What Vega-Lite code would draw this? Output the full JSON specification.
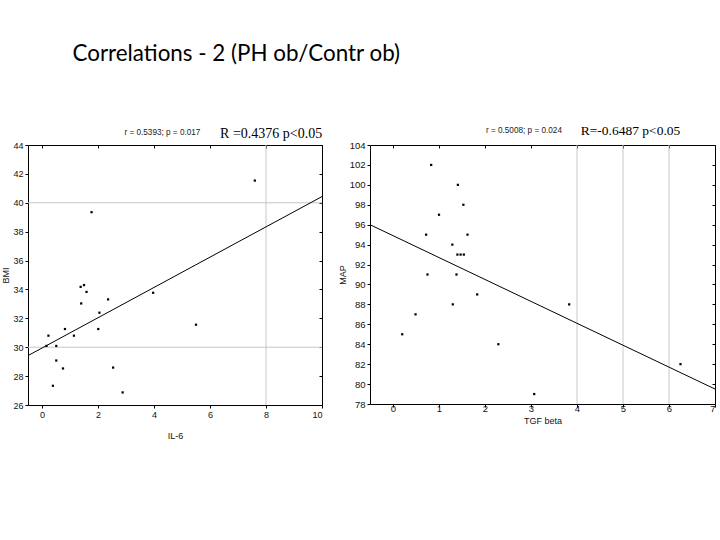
{
  "$schema": "https://vega.github.io/schema/vega-lite/v6.json",
  "padding": {"left": 1, "top": 42, "right": 0, "bottom": 0},
  "background": "white",
  "title": {"text": "Correlations - 2 (PH ob/Contr ob)", "anchor": "start", "font": "Lato", "fontSize": 22.4, "fontWeight": "normal", "color": "black", "dx": 71, "offset": 58},
  "config": {
    "view": {"stroke": "black", "strokeWidth": 1},
    "axis": {"grid": false, "domain": false, "tickColor": "black", "tickSize": 3, "labelFont": "Liberation Sans", "labelFontSize": 9, "labelColor": "#111", "titleFont": "Liberation Sans", "titleFontSize": 9, "titleFontWeight": "normal", "titleColor": "#111", "labelPadding": 2}
  },
  "spacing": 10,
  "hconcat": [
    {
      "width": 294,
      "height": 260,
      "resolve": {"axis": {"x": "independent", "y": "independent"}},
      "layer": [
        {
          "data": {"values": [{"v": 30}, {"v": 40}]},
          "mark": {"type": "rule", "color": "#c8c8c8", "strokeWidth": 1},
          "encoding": {"y": {"field": "v", "type": "quantitative", "scale": {"domain": [26, 44], "nice": false, "zero": false}, "axis": null}}
        },
        {
          "data": {"values": [{"v": 8}]},
          "mark": {"type": "rule", "color": "#c8c8c8", "strokeWidth": 1},
          "encoding": {"x": {"field": "v", "type": "quantitative", "scale": {"domain": [-0.5, 10], "nice": false, "zero": false}, "axis": null}}
        },
        {
          "data": {"values": [{"il6": -0.5, "bmi": 29.42}, {"il6": 10, "bmi": 40.43}]},
          "mark": {"type": "line", "color": "black", "strokeWidth": 1},
          "encoding": {
            "x": {"field": "il6", "type": "quantitative", "scale": {"domain": [-0.5, 10], "nice": false, "zero": false}, "axis": {"orient": "top", "labels": false, "title": null, "tickSize": -3, "values": [0, 2, 4, 6, 8, 10]}},
            "y": {"field": "bmi", "type": "quantitative", "scale": {"domain": [26, 44], "nice": false, "zero": false}, "axis": {"orient": "right", "labels": false, "title": null, "tickSize": -3, "values": [26, 28, 30, 32, 34, 36, 38, 40, 42, 44]}}
          }
        },
        {
          "data": {"values": [
            {"il6": 0.23, "bmi": 30.8}, {"il6": 0.16, "bmi": 30.09}, {"il6": 0.51, "bmi": 30.09},
            {"il6": 0.82, "bmi": 31.26}, {"il6": 1.14, "bmi": 30.8}, {"il6": 0.51, "bmi": 29.08},
            {"il6": 0.75, "bmi": 28.53}, {"il6": 0.39, "bmi": 27.33}, {"il6": 1.38, "bmi": 34.18},
            {"il6": 1.5, "bmi": 34.3}, {"il6": 1.59, "bmi": 33.83}, {"il6": 1.4, "bmi": 33.03},
            {"il6": 2.05, "bmi": 32.39}, {"il6": 2.01, "bmi": 31.26}, {"il6": 2.36, "bmi": 33.31},
            {"il6": 2.54, "bmi": 28.59}, {"il6": 2.88, "bmi": 26.87}, {"il6": 3.97, "bmi": 33.77},
            {"il6": 5.5, "bmi": 31.56}, {"il6": 1.77, "bmi": 39.35}, {"il6": 7.6, "bmi": 41.54}
          ]},
          "mark": {"type": "square", "color": "black", "size": 5, "opacity": 1, "filled": true},
          "encoding": {
            "x": {"field": "il6", "type": "quantitative", "scale": {"domain": [-0.5, 10], "nice": false, "zero": false}, "axis": {"title": "IL-6", "values": [0, 2, 4, 6, 8, 10], "titlePadding": 12}},
            "y": {"field": "bmi", "type": "quantitative", "scale": {"domain": [26, 44], "nice": false, "zero": false}, "axis": {"title": "BMI", "values": [26, 28, 30, 32, 34, 36, 38, 40, 42, 44], "titlePadding": 2}}
          }
        },
        {
          "data": {"values": [{"label": "r = 0.5393; p = 0.017"}]},
          "mark": {"type": "text", "font": "Liberation Sans", "fontSize": 8.2, "align": "center", "baseline": "middle", "color": "#222"},
          "encoding": {
            "x": {"datum": 4.3, "type": "quantitative", "axis": null},
            "y": {"datum": 44.85, "type": "quantitative", "axis": null},
            "text": {"field": "label"}
          }
        },
        {
          "data": {"values": [{"label": "R =0.4376  p<0.05"}]},
          "mark": {"type": "text", "font": "Liberation Serif", "fontSize": 14, "align": "left", "baseline": "middle", "color": "black"},
          "encoding": {
            "x": {"datum": 6.36, "type": "quantitative", "axis": null},
            "y": {"datum": 44.77, "type": "quantitative", "axis": null},
            "text": {"field": "label"}
          }
        }
      ]
    },
    {
      "width": 345,
      "height": 259,
      "resolve": {"axis": {"x": "independent", "y": "independent"}},
      "layer": [
        {
          "data": {"values": [{"v": 4}, {"v": 5}, {"v": 6}]},
          "mark": {"type": "rule", "color": "#c8c8c8", "strokeWidth": 1},
          "encoding": {"x": {"field": "v", "type": "quantitative", "scale": {"domain": [-0.5, 7], "nice": false, "zero": false}, "axis": null}}
        },
        {
          "data": {"values": [{"tgf": -0.5, "map": 96.0}, {"tgf": 7, "map": 79.5}]},
          "mark": {"type": "line", "color": "black", "strokeWidth": 1},
          "encoding": {
            "x": {"field": "tgf", "type": "quantitative", "scale": {"domain": [-0.5, 7], "nice": false, "zero": false}, "axis": {"orient": "top", "labels": false, "title": null, "tickSize": -3, "values": [0, 1, 2, 3, 4, 5, 6, 7]}},
            "y": {"field": "map", "type": "quantitative", "scale": {"domain": [78, 104], "nice": false, "zero": false}, "axis": {"orient": "right", "labels": false, "title": null, "tickSize": -3, "values": [78, 80, 82, 84, 86, 88, 90, 92, 94, 96, 98, 100, 102, 104]}}
          }
        },
        {
          "data": {"values": [
            {"tgf": 0.83, "map": 102.0}, {"tgf": 1.41, "map": 100.0}, {"tgf": 1.53, "map": 98.0},
            {"tgf": 1.0, "map": 97.0}, {"tgf": 0.72, "map": 95.0}, {"tgf": 1.62, "map": 95.0},
            {"tgf": 1.29, "map": 94.0}, {"tgf": 1.4, "map": 93.0}, {"tgf": 1.47, "map": 93.0},
            {"tgf": 1.54, "map": 93.0}, {"tgf": 0.75, "map": 91.0}, {"tgf": 1.38, "map": 91.0},
            {"tgf": 1.83, "map": 89.0}, {"tgf": 1.3, "map": 88.0}, {"tgf": 3.83, "map": 88.0},
            {"tgf": 0.49, "map": 87.0}, {"tgf": 0.2, "map": 85.0}, {"tgf": 2.29, "map": 84.0},
            {"tgf": 6.25, "map": 82.0}, {"tgf": 3.07, "map": 79.0}
          ]},
          "mark": {"type": "square", "color": "black", "size": 5, "opacity": 1, "filled": true},
          "encoding": {
            "x": {"field": "tgf", "type": "quantitative", "scale": {"domain": [-0.5, 7], "nice": false, "zero": false}, "axis": {"title": "TGF beta", "values": [0, 1, 2, 3, 4, 5, 6, 7], "titlePadding": 4, "labelPadding": -4, "labelFontSize": 9.5}},
            "y": {"field": "map", "type": "quantitative", "scale": {"domain": [78, 104], "nice": false, "zero": false}, "axis": {"title": "MAP", "values": [78, 80, 82, 84, 86, 88, 90, 92, 94, 96, 98, 100, 102, 104], "titlePadding": 2, "labelFontSize": 9.5}}
          }
        },
        {
          "data": {"values": [{"label": "r = 0.5008; p = 0.024"}]},
          "mark": {"type": "text", "font": "Liberation Sans", "fontSize": 8.2, "align": "left", "baseline": "middle", "color": "#222"},
          "encoding": {
            "x": {"datum": 2.02, "type": "quantitative", "axis": null},
            "y": {"datum": 105.43, "type": "quantitative", "axis": null},
            "text": {"field": "label"}
          }
        },
        {
          "data": {"values": [{"label": "R=-0.6487 p<0.05"}]},
          "mark": {"type": "text", "font": "Liberation Serif", "fontSize": 13.5, "align": "left", "baseline": "middle", "color": "black"},
          "encoding": {
            "x": {"datum": 4.08, "type": "quantitative", "axis": null},
            "y": {"datum": 105.43, "type": "quantitative", "axis": null},
            "text": {"field": "label"}
          }
        }
      ]
    }
  ]
}
